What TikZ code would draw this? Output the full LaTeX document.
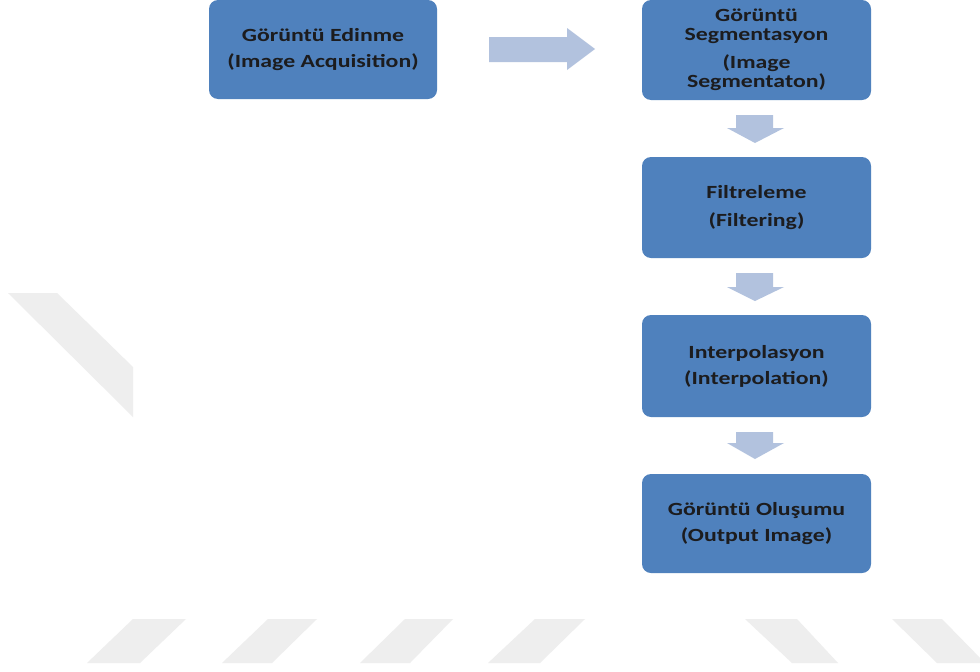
\documentclass[tikz,border=0pt]{standalone}
\usepackage{fontspec}
\setmainfont{Carlito}[FakeStretch=1.28]
\definecolor{boxblue}{RGB}{79,129,189}
\definecolor{arrowblue}{RGB}{178,194,222}
\definecolor{txt}{RGB}{28,28,30}
\definecolor{wmark}{RGB}{238,238,238}
\begin{document}
\begin{tikzpicture}[x=1pt,y=-1pt,
  stage/.style={fill=boxblue, rounded corners=9pt, inner sep=0pt,
    minimum width=229pt, text=txt, align=center,
    font=\fontsize{18.6}{19}\selectfont\bfseries},
  blockarrow/.style={fill=arrowblue},
  stripe/.style={fill=wmark}]
\clip (0,0) rectangle (980,672);
\fill[white] (0,0) rectangle (980,672);

% faint diagonal bands in the background
\fill[stripe] (8,293) -- (57,293) -- (133,367) -- (133,417) -- cycle;
\fill[stripe] (133,619) -- (186,619) -- (140,663) -- (87,663) -- cycle;
\fill[stripe] (268,619) -- (317,619) -- (272,663) -- (222,663) -- cycle;
\fill[stripe] (405,619) -- (453,619) -- (410,663) -- (360,663) -- cycle;
\fill[stripe] (535,619) -- (585,619) -- (540,663) -- (488,663) -- cycle;
\fill[stripe] (745,619) -- (797,619) -- (838,663) -- (792,663) -- cycle;
\fill[stripe] (892,619) -- (942,619) -- (985,663) -- (937,663) -- cycle;

% process stages
\node[stage, minimum width=228pt, minimum height=99pt] (acq) at (323,49.5)
  {Görüntü Edinme\\[7pt](Image Acquisition)};
\node[stage, minimum height=100pt] (seg) at (756.5,50)
  {Görüntü\\Segmentasyon\\[9pt](Image\\Segmentaton)};
\node[stage, minimum height=101pt] (filt) at (756.5,207.5)
  {Filtreleme\\[9pt](Filtering)};
\node[stage, minimum height=102pt] (interp) at (756.5,366)
  {Interpolasyon\\[7pt](Interpolation)};
\node[stage, minimum height=99pt] (out) at (756.5,523.5)
  {Görüntü Oluşumu\\[7pt](Output Image)};

% block arrows between the stages
\fill[blockarrow] (489,37) -- (567,37) -- (567,28) -- (595,49)
  -- (567,70) -- (567,62) -- (489,62) -- cycle;
\fill[blockarrow] (736,115) -- (773,115) -- (773,128) -- (784,128)
  -- (755,143) -- (727,128) -- (736,128) -- cycle;
\fill[blockarrow] (736,273) -- (773,273) -- (773,287) -- (784,287)
  -- (755,301) -- (727,287) -- (736,287) -- cycle;
\fill[blockarrow] (736,432) -- (773,432) -- (773,443) -- (784,443)
  -- (755,459) -- (727,443) -- (736,443) -- cycle;

% caption line running off the bottom edge
\node[anchor=base, inner sep=0pt, text=black,
  font=\fontsize{18}{20}\selectfont] (cap) at (533,687) {İ};
\end{tikzpicture}
\end{document}
